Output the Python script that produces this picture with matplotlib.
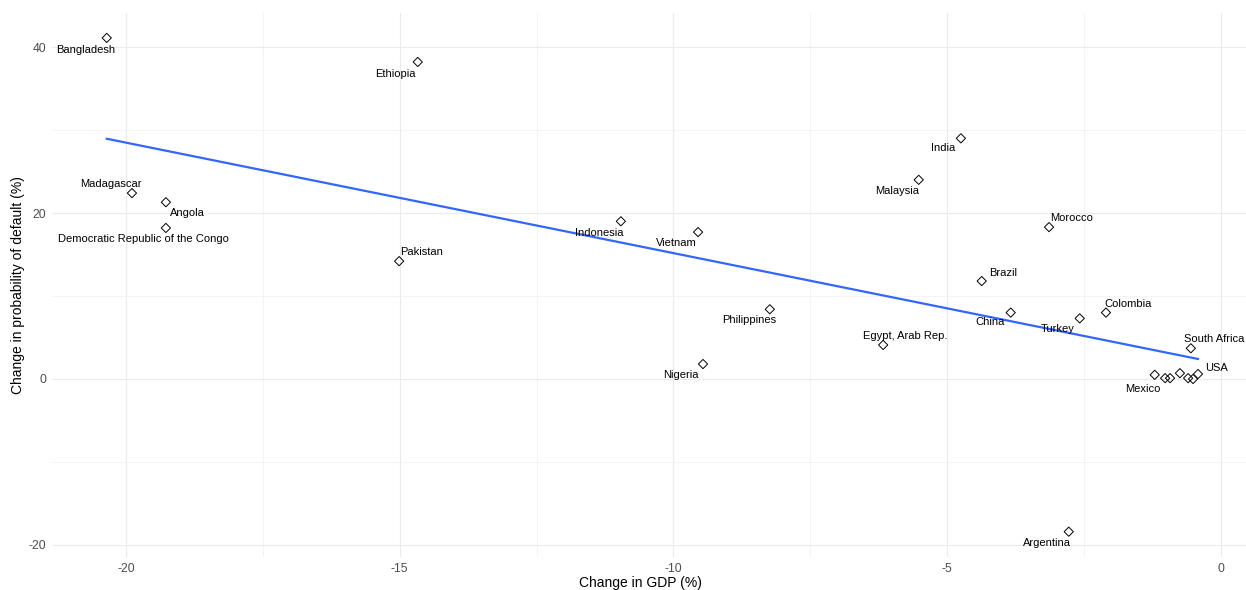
import matplotlib.pyplot as plt
import numpy as np

plt.rcParams['font.family'] = ['Liberation Sans', 'DejaVu Sans']
plt.rcParams['axes.unicode_minus'] = False

# data (GDP change %, default probability change %)
countries = ['Bangladesh', 'Ethiopia', 'India', 'Malaysia', 'Madagascar', 'Angola',
             'Democratic Republic of the Congo', 'Indonesia', 'Vietnam', 'Morocco',
             'Pakistan', 'Brazil', 'Philippines', 'China', 'Turkey', 'Colombia',
             'South Africa', 'Egypt, Arab Rep.', 'Nigeria', 'Argentina', 'Mexico',
             '', '', '', '', '', 'USA']
gdp = [-20.35, -14.67, -4.75, -5.52, -19.89, -19.27,
       -19.27, -10.96, -9.55, -3.14,
       -15.01, -4.37, -8.24, -3.84, -2.58, -2.10,
       -0.55, -6.17, -9.46, -2.78, -1.21,
       -1.02, -0.93, -0.75, -0.60, -0.51, -0.42]
pd_change = [41.1, 38.2, 29.0, 24.0, 22.4, 21.3,
             18.2, 19.0, 17.7, 18.3,
             14.2, 11.8, 8.4, 8.0, 7.3, 8.0,
             3.7, 4.1, 1.8, -18.4, 0.5,
             0.1, 0.1, 0.7, 0.1, 0.0, 0.6]
# label offsets in pixels (ggrepel-like placement)
label_dx = [-21, -22, -18, -22, -21, 22, -22, -22, -22, 23, 22, 21, -21, -21, -22, 22,
            23, 22, -22, -22, -12, 0, 0, 0, 0, 0, 19]
label_dy = [-12, -12, -10, -11, 9, -11, -11, -12, -11, 9, 9, 8, -11, -9, -11, 9,
            9, 9, -11, -11, -14, 0, 0, 0, 0, 0, 6]

fig = plt.figure(figsize=(12.46, 5.90), dpi=100)
ax = fig.add_axes([52/1246, 33/590, 1201/1246, 544/590])

ax.set_xlim(-21.35, 0.585)
ax.set_ylim(-21.45, 44.1)
ax.set_xticks([-20, -15, -10, -5, 0])
ax.set_xticks([-17.5, -12.5, -7.5, -2.5], minor=True)
ax.set_yticks([-20, 0, 20, 40])
ax.set_yticks([-10, 10, 30], minor=True)
ax.grid(which='major', color='#EBEBEB', linewidth=0.8)
ax.grid(which='minor', color='#F2F2F2', linewidth=0.6)
ax.set_axisbelow(True)
for s in ax.spines.values():
    s.set_visible(False)
ax.tick_params(which='both', length=0, labelsize=8.8, labelcolor='#4D4D4D', pad=4)

x = np.array(gdp)
y = np.array(pd_change)
slope, intercept = np.polyfit(x, y, 1)
xs = np.array([x.min(), x.max()])
ax.plot(xs, slope*xs + intercept, color='#3366FF', linewidth=1.6, zorder=2)

ax.scatter(x, y, marker='D', s=22, facecolors='none', edgecolors='black',
           linewidths=0.7, zorder=3)

for name, xi, yi, dx, dy in zip(countries, gdp, pd_change, label_dx, label_dy):
    if name:
        ax.annotate(name, (xi, yi), xytext=(dx, dy), textcoords='offset pixels',
                    ha='center', va='center', fontsize=8, color='black', zorder=4)

ax.set_xlabel('Change in GDP (%)', fontsize=10)
ax.xaxis.set_label_coords(0.49, -19/544)
ax.set_ylabel('Change in probability of default (%)', fontsize=10)
ax.yaxis.set_label_coords(-27/1201, 0.5)

fig.savefig('out.png', dpi=100)
